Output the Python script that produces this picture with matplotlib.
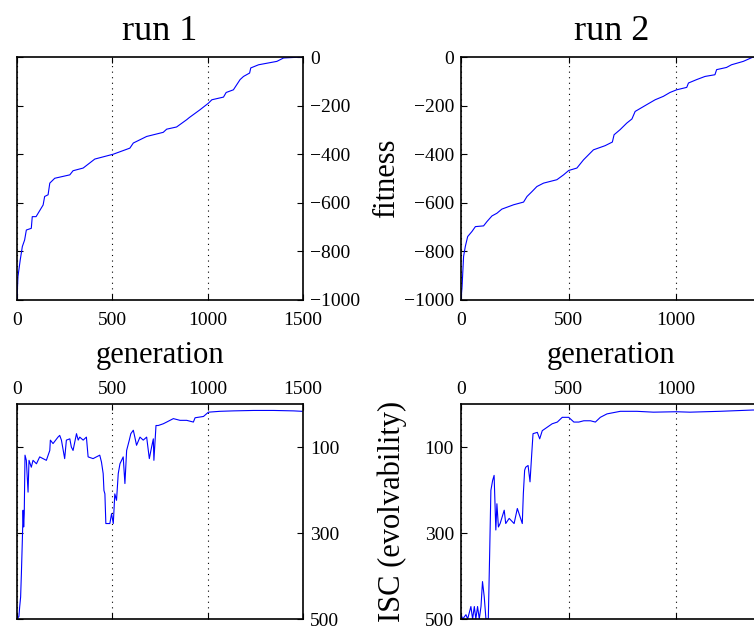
import matplotlib
matplotlib.use("Agg")
import matplotlib.pyplot as plt

plt.rcParams['font.family'] = ['Liberation Serif', 'DejaVu Serif']
plt.rcParams['axes.unicode_minus'] = True

# ---- data ----
run1_fit_gen = [0, 5, 17, 28, 40, 49, 75, 80, 100, 137, 145, 163, 172, 198, 277, 294, 347,
                408, 505, 592, 610, 680, 767, 785, 837, 890, 904, 960, 1004, 1022, 1083,
                1097, 1135, 1170, 1188, 1220, 1226, 1267, 1363, 1398, 1500]
run1_fit_val = [-1000, -904, -835, -780, -753, -712, -705, -657, -657, -609, -574, -567, -519,
                -499, -485, -468, -457, -420, -400, -375, -354, -327, -310, -297, -288, -258,
                -249, -217, -190, -176, -165, -146, -135, -93, -80, -66, -45, -32, -18, -4, 0]

run2_fit_gen = [0, 5, 12, 20, 31, 51, 67, 105, 121, 144, 167, 190, 245, 291, 307, 330, 353,
                384, 446, 477, 501, 539, 570, 616, 670, 704, 712, 740, 771, 795, 810, 864,
                903, 941, 972, 1003, 1050, 1058, 1096, 1135, 1181, 1189, 1235, 1258, 1313,
                1359, 1400]
run2_fit_val = [-1000, -945, -821, -780, -739, -718, -698, -695, -677, -654, -643, -626, -608,
                -597, -574, -554, -533, -519, -505, -485, -467, -457, -423, -382, -365, -350,
                -320, -299, -272, -255, -224, -196, -176, -162, -146, -135, -125, -107, -93,
                -80, -73, -52, -43, -32, -18, 0, 0]

run1_isc_gen = [0, 10, 14, 19, 23, 28, 32, 35, 38, 42, 49, 58, 63, 75, 84, 102, 119, 154, 172,
                175, 189, 215, 224, 233, 250, 259, 277, 285, 294, 312, 321, 329, 347, 364,
                373, 399, 434, 443, 452, 456, 461, 466, 487, 496, 505, 513, 522, 531, 540,
                557, 566, 575, 589, 597, 610, 618, 627, 645, 662, 680, 694, 706, 715, 718,
                729, 741, 767, 785, 820, 855, 890, 925, 934, 978, 1004, 1065, 1135, 1241,
                1346, 1451, 1495]
run1_isc_val = [500, 494, 472, 449, 395, 317, 247, 286, 255, 119, 131, 205, 131, 147, 131, 139,
                123, 131, 108, 84, 92, 77, 73, 84, 127, 84, 81, 100, 108, 69, 84, 77, 84, 77,
                123, 127, 119, 135, 162, 201, 209, 278, 278, 255, 278, 209, 224, 162, 139,
                123, 185, 108, 84, 69, 61, 77, 96, 77, 84, 77, 127, 100, 81, 131, 50, 50, 46,
                42, 34, 38, 38, 42, 32, 29, 19, 17, 16, 15, 15, 16, 17]

run2_isc_gen = [0, 8, 23, 31, 46, 54, 62, 69, 77, 85, 93, 100, 108, 116, 127, 133, 139, 147,
                154, 162, 167, 174, 182, 201, 208, 224, 247, 262, 270, 285, 290, 296, 301,
                312, 321, 329, 335, 355, 366, 378, 401, 424, 448, 471, 501, 525, 548, 571,
                602, 625, 648, 679, 741, 818, 895, 1000, 1065, 1204, 1358, 1400]
run2_isc_val = [490, 500, 490, 500, 471, 500, 471, 500, 471, 500, 471, 413, 448, 500, 500, 355,
                201, 178, 166, 293, 232, 286, 278, 247, 278, 266, 278, 243, 255, 278, 208,
                154, 147, 143, 181, 116, 69, 66, 81, 62, 54, 46, 42, 31, 31, 42, 42, 39, 39,
                42, 31, 23, 17, 17, 19, 18, 19, 17, 14, 14]

titles = ['run 1', 'run 2']
fit_ticks = [0, -200, -400, -600, -800, -1000]
isc_ticks = [100, 300, 500]
gen_ticks = [0, 500, 1000, 1500]
xmax = [1500, 1400]

W, H = 754, 633
fig = plt.figure(figsize=(W / 100, H / 100), dpi=100)


def px_axes(l, t, r, b):
    return fig.add_axes([l / W, 1 - b / H, (r - l) / W, (b - t) / H])


ax_tl = px_axes(17, 57, 303, 300)
ax_tr = px_axes(461, 57, 762, 300)
ax_bl = px_axes(17, 404, 303, 619)
ax_br = px_axes(461, 404, 762, 619)

blue = (0, 0, 1)
tick_fs = 14
lab_fs = 22


def style(ax, xm, xpad):
    for s in ax.spines.values():
        s.set_linewidth(1.2)
    ax.set_xlim(0, xm)
    ax.set_xticks([t for t in gen_ticks if t <= xm])
    ax.tick_params(direction='in', top=True, bottom=True, left=True, right=True,
                   length=4, width=0.8, labelsize=tick_fs)
    ax.tick_params(axis='x', pad=xpad)
    ax.tick_params(axis='y', pad=5)
    ax.xaxis.grid(True, linestyle=(0, (1, 4)), color='k', linewidth=0.8)


# top row: fitness
for ax, g, v, i in [(ax_tl, run1_fit_gen, run1_fit_val, 0), (ax_tr, run2_fit_gen, run2_fit_val, 1)]:
    ax.plot(g, v, color=blue, linewidth=0.8)
    style(ax, xmax[i], 8.5)
    ax.set_ylim(-1000, 0)
    ax.set_yticks(fit_ticks)
    ax.set_title(titles[i], fontsize=26, pad=12)
    ax.set_xlabel('generation', fontsize=lab_fs, labelpad=9)

ax_tl.tick_params(labelleft=False, labelright=True)
ax_tr.tick_params(labelleft=True, labelright=False)
ax_tr.set_ylabel('fitness', fontsize=lab_fs, labelpad=2)

# bottom row: ISC
for ax, g, v, i in [(ax_bl, run1_isc_gen, run1_isc_val, 0), (ax_br, run2_isc_gen, run2_isc_val, 1)]:
    ax.plot(g, v, color=blue, linewidth=0.8)
    style(ax, xmax[i], 4.5)
    ax.set_ylim(500, 0)
    ax.set_yticks(isc_ticks)
    ax.tick_params(labelbottom=False, labeltop=True)

ax_bl.tick_params(labelleft=False, labelright=True)
ax_br.tick_params(labelleft=True, labelright=False)
ax_br.set_ylabel('ISC (evolvability)', fontsize=lab_fs, labelpad=13)

fig.savefig('out.png', dpi=100)
